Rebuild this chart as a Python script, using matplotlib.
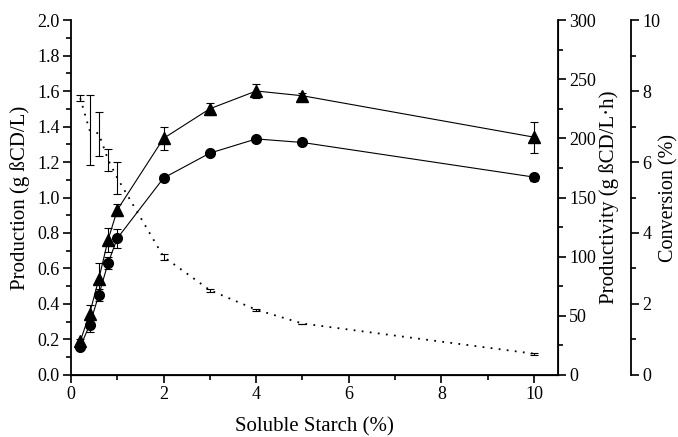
import numpy as np
import matplotlib.pyplot as plt
from matplotlib.ticker import MultipleLocator

plt.rcParams['font.family'] = ['Liberation Serif', 'DejaVu Serif']
plt.rcParams['font.size'] = 13

# soluble starch (%)
starch = [0.2, 0.4, 0.6, 0.8, 1.0, 2, 3, 4, 5, 10]

# production (g bCD/L), left axis, circles
production = [0.16, 0.28, 0.45, 0.63, 0.77, 1.11, 1.25, 1.33, 1.31, 1.115]
production_err = [0.01, 0.04, 0.035, 0.035, 0.055, 0.01, 0.01, 0.01, 0.01, 0.02]

# productivity (g bCD/L.h), right axis, triangles
productivity = [28.5, 51.5, 81, 114, 139.5, 200, 225, 240, 236, 201]
productivity_err = [2, 7.5, 14, 10, 5, 9.5, 5, 6, 2, 13]

# conversion (%), second right axis, dotted
conversion = [7.8, 6.9, 6.8, 6.07, 5.55, 3.33, 2.39, 1.84, 1.45, 0.6]
conversion_err = [0.08, 0.98, 0.62, 0.31, 0.45, 0.08, 0.04, 0.03, 0.0, 0.03]

fig = plt.figure(figsize=(6.78, 4.37), dpi=100)
ax = fig.add_axes([0.1047, 0.1419, 0.7183, 0.8123])
ax2 = ax.twinx()
ax3 = ax.twinx()
ax3.spines['right'].set_position(('axes', 1.15))

ax.errorbar(starch, production, yerr=production_err, color='black', marker='o',
            markersize=7, lw=0.8, elinewidth=0.8, capsize=3, capthick=0.8)
ax2.errorbar(starch, productivity, yerr=productivity_err, color='black', marker='^',
             markersize=8, lw=0.8, elinewidth=0.8, capsize=3, capthick=0.8)
ax3.errorbar(starch, conversion, yerr=conversion_err, color='black', ls=(0, (1, 3.5)),
             lw=1.3, elinewidth=0.8, capsize=3, capthick=0.8)

ax.set_xlim(0, 10.52)
ax.set_ylim(0, 2.0)
ax2.set_ylim(0, 300)
ax3.set_ylim(0, 10)

ax.xaxis.set_major_locator(MultipleLocator(2))
ax.xaxis.set_minor_locator(MultipleLocator(1))
ax.yaxis.set_major_locator(MultipleLocator(0.2))
ax.yaxis.set_minor_locator(MultipleLocator(0.1))
ax.yaxis.set_major_formatter(lambda v, p: f"{v:.1f}")
ax2.yaxis.set_major_locator(MultipleLocator(50))
ax2.yaxis.set_minor_locator(MultipleLocator(25))
ax3.yaxis.set_major_locator(MultipleLocator(2))
ax3.yaxis.set_minor_locator(MultipleLocator(1))

for a in (ax, ax2, ax3):
    a.spines['top'].set_visible(False)
    a.tick_params(which='major', length=6, width=1.2, direction='out', pad=2)
    a.tick_params(which='minor', length=3.5, width=1.2, direction='out')
for s in ('left', 'bottom'):
    ax.spines[s].set_linewidth(1.3)
ax2.spines['right'].set_linewidth(1.3)
ax3.spines['right'].set_linewidth(1.3)
ax2.spines['left'].set_visible(False)
ax3.spines['left'].set_visible(False)

ax.set_xlabel('Soluble Starch (%)', fontsize=15, labelpad=10)
ax.set_ylabel('Production (g \u00dfCD/L)', fontsize=15, labelpad=5)
ax2.set_ylabel('Productivity (g \u00dfCD/L\u00b7h)', fontsize=15, labelpad=2)
ax3.set_ylabel('Conversion (%)', fontsize=14.5, labelpad=-1)

fig.savefig('out.png', dpi=100)
